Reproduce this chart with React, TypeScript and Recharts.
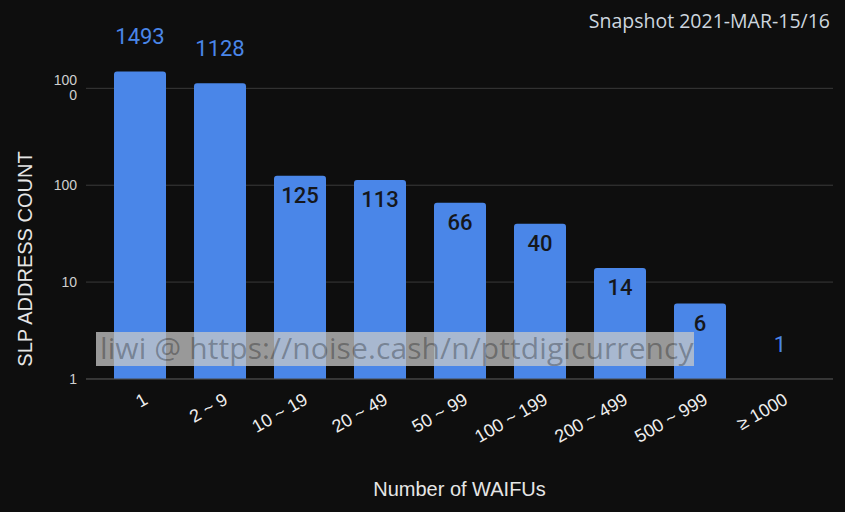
import { BarChart, Bar, XAxis, YAxis, CartesianGrid, LabelList } from "recharts"

// ============================================================
// Data
// ============================================================

const ranges = ["1", "2 ~ 9", "10 ~ 19", "20 ~ 49", "50 ~ 99", "100 ~ 199", "200 ~ 499", "500 ~ 999", "≥ 1000"]
const addressCounts = [1493, 1128, 125, 113, 66, 40, 14, 6, 1]
const yTicks = [1, 10, 100, 1000]

const chartData = ranges.map((r, i) => ({ range: r, count: addressCounts[i] }))

const BLUE = "#4a86e8"
const BG = "#0e0e0e"

// ============================================================
// Custom renderers
// ============================================================

function YTick({ x, y, payload }: any) {
  const v = payload.value
  const common = {
    textAnchor: "end" as const,
    fill: "#cfcfcf",
    fontSize: 14,
    fontFamily: "Arial, 'Liberation Sans', sans-serif",
  }
  // Google wraps "1000" onto two lines
  if (v === 1000) {
    return (
      <text x={x - 1} y={y - 3} {...common}>
        <tspan x={x - 1}>100</tspan>
        <tspan x={x - 1} dy={15}>0</tspan>
      </text>
    )
  }
  return (
    <text x={x - 1} y={y + 5} {...common}>{v}</text>
  )
}

function XTick({ x, y, payload }: any) {
  const tx = x + 9
  const ty = y + 16
  return (
    <text
      x={tx}
      y={ty}
      textAnchor="end"
      transform={`rotate(-30, ${tx}, ${ty})`}
      fill="#eeeeee"
      fontSize={18}
      fontFamily="Arial, 'Liberation Sans', sans-serif"
    >
      {payload.value}
    </text>
  )
}

function ValueLabel({ x, y, width, value }: any) {
  const outside = value >= 1000 || value <= 1
  const cx = x + width / 2
  return (
    <text
      x={cx}
      y={outside ? y - 27 : y + 27}
      textAnchor="middle"
      fill={outside ? BLUE : "#15171c"}
      fontSize={22}
      fontWeight={outside ? 400 : 500}
      fontFamily="Roboto, Arial, sans-serif"
    >
      {value}
    </text>
  )
}

function YLabel() {
  return (
    <text
      x={32}
      y={259}
      transform="rotate(-90, 32, 259)"
      textAnchor="middle"
      fill="#e6e6e6"
      fontSize={20}
      fontFamily="Arial, 'Liberation Sans', sans-serif"
    >
      SLP ADDRESS COUNT
    </text>
  )
}

// ============================================================
// App
// ============================================================

export default function App() {
  return (
    <div style={{ position: "relative", width: 845, height: 512, background: BG, overflow: "hidden" }}>
      <style>{"body{margin:0;background:#0e0e0e}"}</style>
      <BarChart
        width={845}
        height={512}
        data={chartData}
        margin={{ top: 30, right: 12, bottom: 0, left: 0 }}
        barCategoryGap={14}
      >
        <CartesianGrid vertical={false} horizontalValues={yTicks} stroke="#3a3a3a" strokeWidth={1} />
        <XAxis
          dataKey="range"
          height={133}
          padding={{ left: 14, right: 13 }}
          tick={<XTick />}
          tickLine={false}
          axisLine={{ stroke: "#4a4a4a" }}
          interval={0}
          label={{
            value: "Number of WAIFUs",
            position: "insideBottom",
            offset: 16,
            fill: "#e6e6e6",
            fontSize: 20,
            fontFamily: "Arial, 'Liberation Sans', sans-serif",
          }}
        />
        <YAxis
          width={86}
          scale="log"
          domain={[0.999, 4000]}
          ticks={yTicks}
          allowDataOverflow
          tick={<YTick />}
          tickLine={false}
          axisLine={false}
          label={<YLabel />}
        />
        <Bar dataKey="count" fill={BLUE} radius={[3, 3, 0, 0]} isAnimationActive={false}>
          <LabelList dataKey="count" content={<ValueLabel />} />
        </Bar>
      </BarChart>
      <div
        style={{
          position: "absolute",
          right: 15,
          top: 7,
          color: "#cdd6df",
          fontSize: 19.5,
          fontFamily: "'Open Sans', 'Noto Sans', sans-serif",
        }}
      >
        Snapshot 2021-MAR-15/16
      </div>
      <div
        style={{
          position: "absolute",
          left: 96,
          top: 332,
          width: 598,
          height: 34,
          background: "rgba(200,200,200,0.75)",
          color: "rgba(0,0,0,0.3)",
          fontSize: 30,
          letterSpacing: 0.1,
          lineHeight: "32px",
          fontFamily: "'Open Sans', 'Noto Sans', sans-serif",
          paddingLeft: 4,
          whiteSpace: "nowrap",
          boxSizing: "border-box",
        }}
      >
        liwi @ https://noise.cash/n/pttdigicurrency
      </div>
    </div>
  )
}
